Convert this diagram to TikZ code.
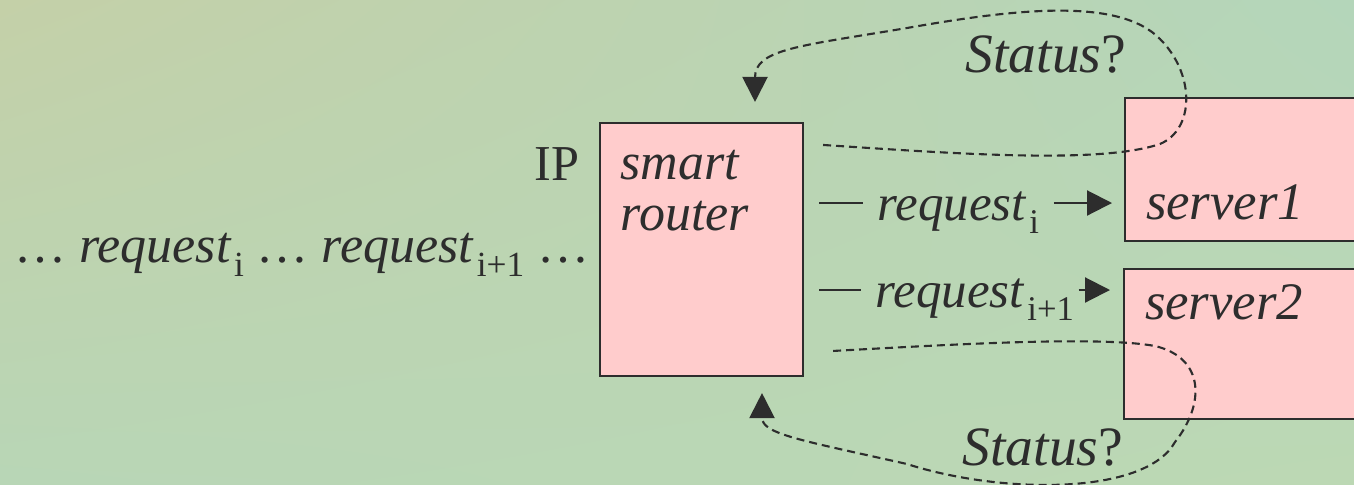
\documentclass[tikz,border=0pt]{standalone}
\usepackage{fontspec}
\usepackage{graphicx}
\setmainfont{Liberation Serif}
\usetikzlibrary{arrows.meta, positioning, shadings}

\definecolor{ink}{RGB}{45,45,45}
\definecolor{boxpink}{RGB}{255,204,204}
\definecolor{bgtl}{RGB}{196,208,168}
\definecolor{bgtr}{RGB}{180,214,186}
\definecolor{bgbl}{RGB}{184,214,182}
\definecolor{bgbr}{RGB}{188,216,180}

\newcommand{\reqsub}[1]{\textit{request}\kern0.05em\raisebox{-0.27em}{\scalebox{0.68}{#1}}}

\begin{document}
\begin{tikzpicture}[
    box/.style={rectangle, draw=ink, line width=0.6pt, fill=boxpink},
    server/.style={box, anchor=north west, text width=2.2cm, align=left,
                   inner xsep=0.21cm, inner ysep=0pt, text=ink,
                   font=\fontsize{15}{18}\selectfont\itshape},
    req/.style={anchor=base west, inner xsep=0.14cm, text=ink,
                text height=0.34cm, text depth=0cm,
                font=\fontsize{14.5}{16}\selectfont},
    flow/.style={draw=ink, line width=0.6pt},
    tip/.style={-{Triangle[length=0.25cm, width=0.25cm]}},
    poll/.style={flow, dash pattern=on 0.08cm off 0.05cm, tip},
    status/.style={anchor=base west, inner sep=0pt, text=ink,
                   font=\fontsize{15.8}{17}\selectfont}
]

\useasboundingbox (0,0) rectangle (13.54,4.84);
\clip (0,0) rectangle (13.54,4.84);
\shade[upper left=bgtl, upper right=bgtr, lower left=bgbl, lower right=bgbr]
    (0,0) rectangle (13.54,4.84);

% boxes
\node[box, minimum width=2.03cm, minimum height=2.53cm] (router) at (7.015,2.345) {};
\node[anchor=north west, align=left, inner sep=0pt, text=ink,
      font=\fontsize{14.8}{14.5}\selectfont\itshape] (routertxt)
      at (6.20,3.34) {smart\\router};
\node[anchor=base east, inner sep=0pt, text=ink,
      font=\fontsize{14.3}{16}\selectfont] (ip) at (5.80,3.04) {IP};

\node[server, text height=1.21cm, text depth=0.22cm] (server1) at (11.24,3.87) {server1};
\node[server, text height=0.50cm, text depth=1.00cm] (server2) at (11.23,2.16) {server2};

% incoming requests
\node[anchor=base east, inner sep=0pt, text=ink,
      font=\fontsize{14.8}{16}\selectfont] (queue) at (5.90,2.22)
      {… \reqsub{i} … \reqsub{i+1} …};

% forwarded requests
\node[req] (lbl1) at (8.63,2.64) {\reqsub{i}};
\node[req] (lbl2) at (8.61,1.77) {\reqsub{i+1}};

\draw[flow] ([xshift=0.15cm]router.east |- lbl1.west) -- (lbl1.west);
\draw[flow, tip, shorten >=0.12cm] (lbl1.east) -- (server1.west |- lbl1.east);
\draw[flow] ([xshift=0.15cm]router.east |- lbl2.west) -- (lbl2.west);
\draw[flow, tip, shorten >=0.13cm] ([xshift=-0.1cm]lbl2.east) -- (server2.west |- lbl2.east);

% status polling
\node[status] (stat1) at (9.65,4.12) {\textit{Status}?};
\node[status] (stat2) at (9.62,0.19) {\textit{Status}?};

\draw[poll] ([xshift=0.19cm, yshift=-0.23cm]router.north east)
    .. controls (9.6,3.30) and (11.0,3.20) .. (11.6,3.40)
    .. controls (11.95,3.55) and (11.95,4.10) .. (11.6,4.45)
    .. controls (11.2,4.86) and (10.2,4.76) .. (9.07,4.56)
    .. controls (8.0,4.38) and (7.55,4.35) .. ([xshift=0.535cm, yshift=0.2cm]router.north);

\draw[poll] ([xshift=0.29cm, yshift=-2.29cm]router.north east)
    .. controls (9.6,1.40) and (11.0,1.48) .. (11.55,1.38)
    .. controls (12.05,1.26) and (12.05,0.80) .. (11.75,0.42)
    .. controls (11.45,-0.12) and (10.0,-0.10) .. (9.07,0.20)
    .. controls (8.0,0.44) and (7.62,0.50) .. ([xshift=0.605cm, yshift=-0.16cm]router.south);

\end{tikzpicture}
\end{document}
